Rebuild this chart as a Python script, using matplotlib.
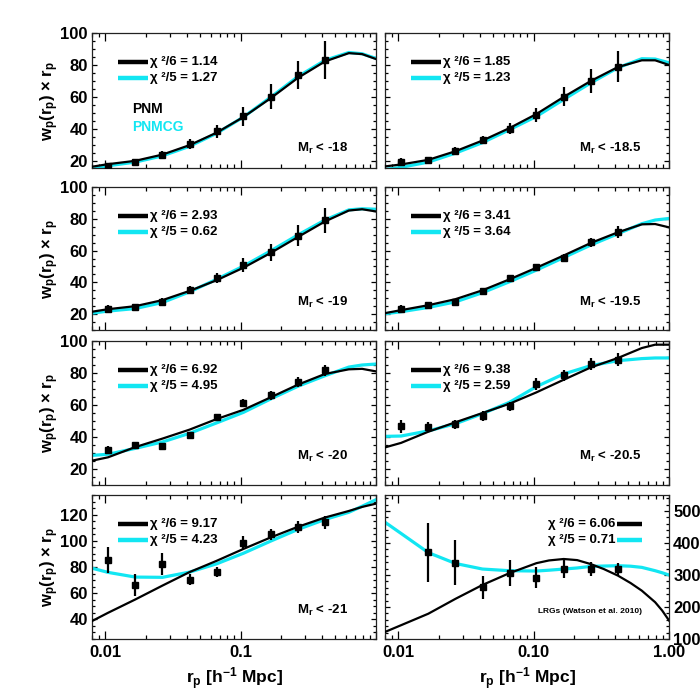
import matplotlib.pyplot as plt
from matplotlib.ticker import MultipleLocator, NullFormatter

plt.rcParams['font.family'] = ['Liberation Sans', 'DejaVu Sans']
plt.rcParams['font.weight'] = 'bold'
plt.rcParams['axes.labelweight'] = 'bold'
plt.rcParams['mathtext.fontset'] = 'custom'
plt.rcParams['mathtext.rm'] = 'Liberation Sans:bold'
plt.rcParams['mathtext.it'] = 'Liberation Sans:bold'
plt.rcParams['mathtext.bf'] = 'Liberation Sans:bold'

# projected separations of the measurements [h^-1 Mpc]
rp = [0.0105, 0.0167, 0.0265, 0.042, 0.0665, 0.105, 0.167, 0.265, 0.42]
r_model = [0.008, 0.0105, 0.0167, 0.0265, 0.042, 0.0665, 0.105, 0.167,
           0.265, 0.42, 0.63, 0.79, 1.0]
r_model_lrg = [0.008, 0.0105, 0.0167, 0.0265, 0.042, 0.0665, 0.105, 0.13,
               0.167, 0.21, 0.265, 0.33, 0.42, 0.52, 0.63, 0.79, 0.89, 1.0]

# Mr < -18
wp_18 = [16.9, 19.0, 23.7, 30.4, 38.5, 47.8, 60.2, 73.7, 83.0]
err_18 = [1.5, 1.2, 2.3, 3.3, 4.2, 5.8, 7.8, 8.6, 12.0]
pnm_18 = [16.3, 17.9, 20.0, 23.9, 29.8, 37.6, 47.4, 59.2, 71.9, 82.2, 87.4, 86.8, 83.7]
pnmcg_18 = [14.6, 16.9, 19.2, 23.1, 29.1, 37.2, 47.4, 59.8, 72.7, 82.9, 87.8, 87.0, 84.1]

# Mr < -18.5
wp_185 = [19.2, 20.2, 26.4, 33.0, 40.0, 48.6, 60.0, 69.8, 79.0]
err_185 = [2.5, 2.0, 2.5, 2.6, 3.5, 4.6, 6.0, 7.5, 9.5]
pnm_185 = [16.5, 17.7, 20.6, 26.0, 32.7, 40.5, 49.3, 60.0, 70.0, 78.7, 82.9, 82.9, 80.0]
pnmcg_185 = [14.6, 15.9, 19.2, 24.8, 31.4, 39.5, 47.8, 58.4, 68.8, 78.3, 83.9, 83.7, 81.4]

# Mr < -19
wp_19 = [23.5, 24.4, 27.9, 35.0, 42.7, 50.8, 59.0, 69.4, 79.0]
err_19 = [2.0, 2.0, 2.4, 2.5, 3.4, 4.4, 5.4, 6.6, 8.0]
pnm_19 = [21.5, 23.1, 25.0, 28.8, 34.6, 41.3, 49.2, 58.5, 68.5, 78.3, 85.2, 86.0, 84.6]
pnmcg_19 = [20.6, 21.9, 23.5, 27.3, 34.0, 41.9, 50.2, 59.8, 69.8, 79.2, 85.6, 86.3, 86.0]

# Mr < -19.5
wp_195 = [23.5, 25.6, 27.5, 34.4, 42.7, 49.4, 55.2, 65.2, 71.5]
err_195 = [2.0, 1.6, 2.0, 1.6, 2.0, 2.0, 2.5, 3.0, 3.7]
pnm_195 = [20.6, 22.5, 25.6, 29.4, 35.0, 41.9, 49.2, 56.9, 64.8, 71.5, 76.5, 76.7, 74.6]
pnmcg_195 = [20.2, 21.5, 24.2, 27.7, 33.5, 40.4, 47.7, 55.6, 63.5, 70.6, 76.9, 79.2, 80.2]

# Mr < -20
wp_20 = [32.1, 34.8, 34.6, 41.3, 52.5, 61.3, 66.0, 74.4, 81.7]
err_20 = [2.2, 2.2, 1.8, 1.8, 2.0, 2.5, 2.6, 3.2, 3.6]
pnm_20 = [25.2, 27.3, 33.7, 39.0, 44.6, 51.2, 57.0, 64.8, 72.7, 79.4, 82.3, 82.6, 81.0]
pnmcg_20 = [28.5, 29.2, 32.9, 36.9, 42.3, 48.8, 55.4, 63.8, 71.7, 78.3, 83.7, 85.0, 85.6]

# Mr < -20.5
wp_205 = [46.7, 46.3, 47.9, 53.3, 59.2, 73.1, 78.5, 85.4, 88.3]
err_205 = [4.2, 3.3, 2.9, 3.0, 2.9, 3.6, 3.6, 3.7, 4.2]
pnm_205 = [33.5, 36.3, 43.3, 49.2, 55.0, 60.8, 67.9, 75.8, 83.5, 89.4, 95.6, 97.7, 97.7]
pnmcg_205 = [40.4, 40.6, 43.8, 48.3, 54.6, 61.7, 71.5, 79.4, 84.6, 87.7, 89.0, 89.4, 89.4]

# Mr < -21
wp_21 = [85.5, 66.5, 82.2, 70.3, 76.1, 98.6, 105.0, 110.7, 114.0]
err_21 = [10.0, 8.5, 8.3, 4.4, 3.8, 4.7, 4.4, 4.4, 4.7]
pnm_21 = [38.7, 45.0, 55.2, 65.8, 76.1, 84.7, 93.8, 102.6, 110.7, 117.8, 122.8, 125.9, 128.4]
pnmcg_21 = [79.1, 75.9, 72.3, 72.1, 76.1, 82.4, 90.5, 99.8, 108.7, 116.3, 121.8, 126.4, 131.4]

# LRGs (Watson et al. 2010), no point at the smallest separation
wp_lrg = [371, 339, 261, 306, 291, 318, 320, 318]
err_lrg = [92, 70, 37, 41, 33, 28, 22, 19]
pnm_lrg = [122, 143, 179, 225.5, 269, 306, 337, 345.5, 350, 346.5, 334, 318.6,
           298, 275, 251, 215, 189, 158]
pnmcg_lrg = [465, 430, 370, 336, 318.6, 313.4, 312.4, 315, 318.6, 322, 327, 328,
             329, 327.5, 323.8, 313.4, 307, 300]

sample_labels = ['M$_r$ < -18', 'M$_r$ < -18.5', 'M$_r$ < -19', 'M$_r$ < -19.5',
                 'M$_r$ < -20', 'M$_r$ < -20.5', 'M$_r$ < -21',
                 'LRGs (Watson et al. 2010)']
chi_pnm = ['1.14', '1.85', '2.93', '3.41', '6.92', '9.38', '9.17', '6.06']
chi_pnmcg = ['1.27', '1.23', '0.62', '3.64', '4.95', '2.59', '4.23', '0.71']

panels = [
    (rp, wp_18, err_18, r_model, pnm_18, pnmcg_18),
    (rp, wp_185, err_185, r_model, pnm_185, pnmcg_185),
    (rp, wp_19, err_19, r_model, pnm_19, pnmcg_19),
    (rp, wp_195, err_195, r_model, pnm_195, pnmcg_195),
    (rp, wp_20, err_20, r_model, pnm_20, pnmcg_20),
    (rp, wp_205, err_205, r_model, pnm_205, pnmcg_205),
    (rp, wp_21, err_21, r_model, pnm_21, pnmcg_21),
    (rp[1:], wp_lrg, err_lrg, r_model_lrg, pnm_lrg, pnmcg_lrg),
]

CYAN = '#12e6f2'
PX = 0.72  # points per pixel at dpi 100

fig = plt.figure(figsize=(7, 7), dpi=100)

# panel boxes in pixels
col_x = [(92, 376), (385, 669)]
row_y = [(33, 168), (187, 330), (341, 485), (495, 639)]
ylims = [(15.5, 100), (10, 100), (10, 100), None]

for i, (x, wp, err, rm, pnm, pnmcg) in enumerate(panels):
    row, col = divmod(i, 2)
    (x0, x1), (y0, y1) = col_x[col], row_y[row]
    w_px, h_px = x1 - x0, y1 - y0
    ax = fig.add_axes([x0 / 700, 1 - y1 / 700, w_px / 700, h_px / 700])

    ax.plot(rm, pnmcg, color=CYAN, lw=2.3, zorder=2)
    ax.plot(rm, pnm, color='k', lw=1.6, zorder=3)
    ax.errorbar(x, wp, yerr=err, fmt='s', color='k', ms=4, elinewidth=1.6,
                capsize=0, zorder=5)

    ax.set_xscale('log')
    ax.set_xlim(0.008, 1.0)
    if row < 3:
        ax.set_ylim(*ylims[row])
        ax.yaxis.set_major_locator(MultipleLocator(20))
        ax.yaxis.set_minor_locator(MultipleLocator(5))
    elif col == 0:
        ax.set_ylim(25, 135)
        ax.yaxis.set_major_locator(MultipleLocator(20))
        ax.yaxis.set_minor_locator(MultipleLocator(5))
    else:
        ax.set_ylim(100, 550)
        ax.yaxis.set_major_locator(MultipleLocator(100))
        ax.yaxis.set_minor_locator(MultipleLocator(20))

    ax.tick_params(which='both', direction='in', top=True, right=True,
                   labelsize=12, width=0.9)
    ax.tick_params(axis='x', which='major', length=6, pad=4)
    ax.tick_params(axis='x', which='minor', length=3)
    ax.tick_params(axis='y', which='major', length=3.5, pad=3)
    ax.tick_params(axis='y', which='minor', length=2)
    ax.xaxis.set_minor_formatter(NullFormatter())
    for s in ax.spines.values():
        s.set_linewidth(0.9)
        s.set_color('#222222')

    if row == 3:
        ax.set_xticks([0.01, 0.1, 1.0])
        if col == 0:
            ax.set_xticklabels(['0.01', '0.1', ''])
        else:
            ax.set_xticklabels(['0.01', '0.10', '1.00'])
        ax.set_xlabel('r$_p$ [h$^{-1}$ Mpc]', fontsize=12.5)
        ax.xaxis.set_label_coords(0.5, -0.185)
    else:
        ax.tick_params(labelbottom=False)

    if col == 0:
        ax.set_ylabel(r'w$_p$(r$_p$) $\times$ r$_p$', fontsize=12)
        ax.yaxis.set_label_coords(-0.108, 0.5)
    elif row == 3:
        ax.tick_params(labelleft=False, labelright=True)
    else:
        ax.tick_params(labelleft=False)

    for lbl in ax.get_xticklabels() + ax.get_yticklabels():
        lbl.set_fontweight('bold')

    # legend entries
    ly1, ly2 = 1 - 29 / h_px, 1 - 45 / h_px
    t1 = 'χ ²/6 = ' + chi_pnm[i]
    t2 = 'χ ²/5 = ' + chi_pnmcg[i]
    if i < 7:
        lx = (26 / w_px, 56 / w_px)
        tx, ha = 58 / w_px, 'left'
    else:
        lx = (1 - 52 / w_px, 1 - 27 / w_px)
        tx, ha = 1 - 54 / w_px, 'right'
    ax.plot(lx, [ly1, ly1], color='k', lw=3.2, transform=ax.transAxes,
            solid_capstyle='butt')
    ax.plot(lx, [ly2, ly2], color=CYAN, lw=3.2, transform=ax.transAxes,
            solid_capstyle='butt')
    ax.text(tx, ly1, t1, transform=ax.transAxes, ha=ha, va='center', fontsize=9.5)
    ax.text(tx, ly2, t2, transform=ax.transAxes, ha=ha, va='center', fontsize=9.5)

    # sample label
    if i < 7:
        ax.annotate(sample_labels[i], xy=(1 - 28 / w_px, 1), xycoords='axes fraction',
                    xytext=(0, -115 * PX), textcoords='offset points',
                    ha='right', va='center', fontsize=9.5)
    else:
        ax.annotate(sample_labels[i], xy=(1 - 27 / w_px, 1), xycoords='axes fraction',
                    xytext=(0, -117 * PX), textcoords='offset points',
                    ha='right', va='center', fontsize=6)

    if i == 0:
        ax.annotate('PNM', xy=(40 / w_px, 1), xycoords='axes fraction',
                    xytext=(0, -76 * PX), textcoords='offset points',
                    ha='left', va='center', fontsize=10, color='k')
        ax.annotate('PNMCG', xy=(40 / w_px, 1), xycoords='axes fraction',
                    xytext=(0, -94 * PX), textcoords='offset points',
                    ha='left', va='center', fontsize=10, color=CYAN)

fig.savefig('out.png', dpi=100)
